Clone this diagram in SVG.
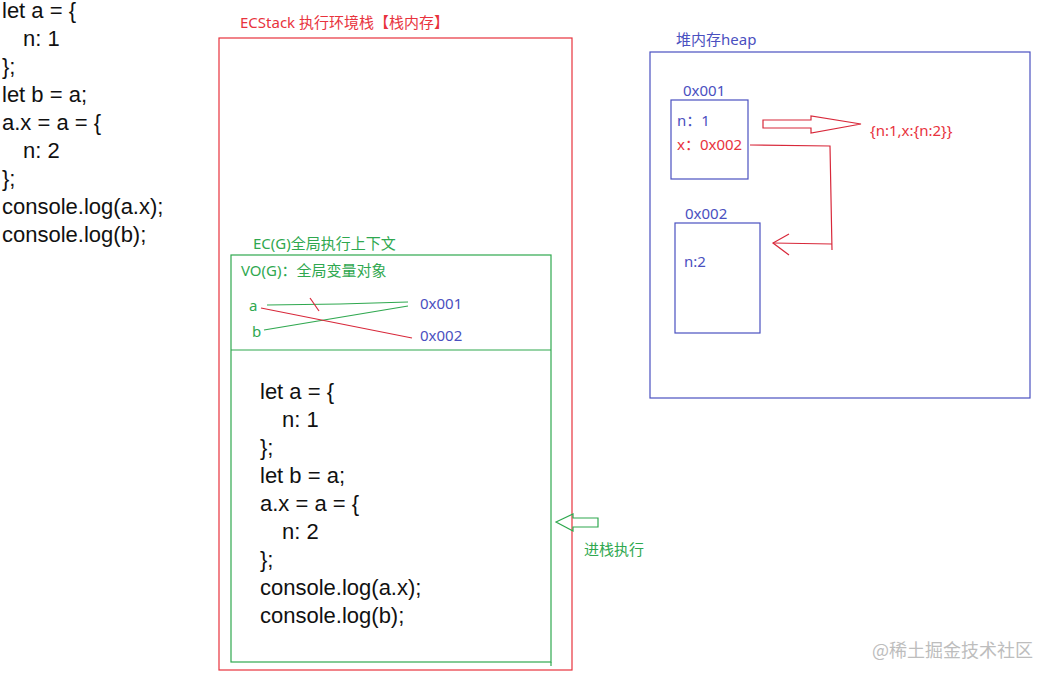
<svg xmlns="http://www.w3.org/2000/svg" width="1053" height="680" viewBox="0 0 1053 680">
<style>
.code{font-family:"Liberation Sans",Arial,sans-serif;font-size:22px;fill:#111}
.lbl{font-family:"Noto Sans","Noto Sans CJK SC",sans-serif;font-size:15px}
.red{fill:#e8333d}
.green{fill:#2fa84f}
.blue{fill:#4a50c0}
.rbox{fill:none;stroke:#e8333d;stroke-width:1.2}
.gbox{fill:none;stroke:#2fa84f;stroke-width:1.2}
.bbox{fill:none;stroke:#4a50c0;stroke-width:1.2}
.rl{fill:none;stroke:#d8283a;stroke-width:1.2}
.gl{fill:none;stroke:#2fa84f;stroke-width:1.2}
</style>
<rect width="1053" height="680" fill="#fff"/>

<g id="code-left" class="code">
<text x="2" y="18">let a = {</text>
<text x="23" y="46">n: 1</text>
<text x="2" y="74">};</text>
<text x="2" y="102">let b = a;</text>
<text x="2" y="130">a.x = a = {</text>
<text x="23" y="158">n: 2</text>
<text x="2" y="186">};</text>
<text x="2" y="214">console.log(a.x);</text>
<text x="2" y="242">console.log(b);</text>
</g>

<g id="ecstack">
<rect class="rbox" x="219" y="38" width="353" height="632"/>
<text class="lbl red" x="240" y="28">ECStack 执行环境栈【栈内存】</text>
</g>

<g id="ecg">
<rect class="gbox" x="231" y="255" width="320" height="407"/>
<line class="gl" x1="231" y1="350" x2="551" y2="350"/>
<line class="gl" x1="551" y1="662" x2="551" y2="666"/>
<text class="lbl green" x="253" y="249" font-size="16">EC(G)全局执行上下文</text>
</g>

<g id="vo">
<text class="lbl green" x="241" y="276" font-size="15.5">VO(G)：全局变量对象</text>
<text class="lbl green" x="249" y="311">a</text>
<text class="lbl green" x="252" y="337">b</text>
<text class="lbl blue" x="420" y="309" font-size="16">0x001</text>
<text class="lbl blue" x="420" y="341" font-size="16">0x002</text>
</g>

<g id="code-inner" class="code">
<text x="260" y="399">let a = {</text>
<text x="282" y="427">n: 1</text>
<text x="260" y="455">};</text>
<text x="260" y="483">let b = a;</text>
<text x="260" y="511">a.x = a = {</text>
<text x="282" y="539">n: 2</text>
<text x="260" y="567">};</text>
<text x="260" y="595">console.log(a.x);</text>
<text x="260" y="623">console.log(b);</text>
</g>

<g id="heap">
<rect class="bbox" x="650" y="52" width="380" height="346"/>
<text class="lbl blue" x="676" y="45">堆内存heap</text>
</g>

<g id="obj1">
<rect class="bbox" x="671" y="100" width="77" height="79"/>
<text class="lbl blue" x="683" y="96">0x001</text>
<text class="lbl blue" x="677" y="126">n：1</text>
<text class="lbl red" x="677" y="150">x：0x002</text>
</g>

<g id="obj2">
<rect class="bbox" x="675" y="223" width="85" height="110"/>
<text class="lbl blue" x="685" y="219">0x002</text>
<text class="lbl blue" x="684" y="267">n:2</text>
</g>

<g id="result">
<text class="lbl red" x="870" y="136" font-size="13.5">{n:1,x:{n:2}}</text>
</g>

<g id="push-label">
<text class="lbl green" x="584" y="555">进栈执行</text>
</g>

<g id="watermark">
<text x="872" y="657" font-family="Noto Sans CJK SC, sans-serif" font-size="18" fill="#bdbdbd">@稀土掘金技术社区</text>
</g>

<g id="connectors">
<polyline class="gl" points="267,305 340,304 408,302"/>
<line class="gl" x1="264" y1="330" x2="408" y2="306"/>
<line class="rl" x1="261" y1="308" x2="412" y2="338"/>
<line class="rl" x1="310" y1="298" x2="319" y2="311"/>
<polygon class="rl" points="763,120 811,120 811,116 861,124 811,133 811,128 763,128"/>
<polyline class="rl" points="750,145 830,146 832,250"/>
<line class="rl" x1="832" y1="244" x2="773" y2="243"/>
<polyline class="rl" points="789,234 773,243 789,255"/>
<polygon class="gl" points="556,522 573,514 573,518 598,518 598,527 573,527 573,531"/>
</g>
</svg>
